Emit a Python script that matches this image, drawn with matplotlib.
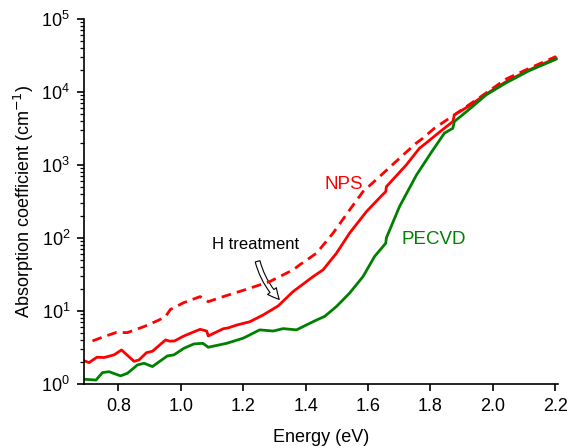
import numpy as np
import matplotlib
matplotlib.use('Agg')
import matplotlib.pyplot as plt
from matplotlib.patches import FancyArrowPatch

plt.rcParams['font.family'] = ['Liberation Sans', 'DejaVu Sans']

# NPS after H treatment (solid red)
nps_h_x = [0.69, 0.706, 0.731, 0.754, 0.786, 0.81, 0.85, 0.866, 0.89, 0.909, 0.951, 0.965,
           0.98, 1.01, 1.062, 1.083, 1.088, 1.136, 1.152, 1.179, 1.221, 1.264, 1.312, 1.36,
           1.424, 1.456, 1.499, 1.541, 1.595, 1.643, 1.657, 1.659, 1.723, 1.765, 1.787,
           1.819, 1.872, 1.877, 1.925, 1.979, 2.043, 2.117, 2.203]
nps_h_y = [2.08, 1.96, 2.32, 2.3, 2.5, 2.92, 2.04, 2.13, 2.68, 2.8, 4.0, 3.85,
           3.88, 4.54, 5.6, 5.3, 4.54, 5.7, 5.85, 6.4, 7.1, 8.8, 11.7, 18.4,
           29.5, 36.5, 61.7, 116, 229, 376, 430, 503, 1000, 1690, 2000,
           2590, 3920, 4840, 6440, 9350, 13800, 20000, 28900]

# NPS before treatment (dashed red)
nps_x = [0.717, 0.754, 0.792, 0.829, 0.882, 0.93, 0.951, 0.967, 1.01, 1.062, 1.088,
         1.136, 1.211, 1.285, 1.36, 1.381, 1.435, 1.488, 1.541, 1.584, 1.637, 1.701,
         1.755, 1.776, 1.813, 1.845, 1.877, 1.947, 2.043, 2.117, 2.203]
nps_y = [3.88, 4.45, 5.05, 5.05, 6.1, 7.5, 8.4, 10.5, 13, 15.7, 13.4,
         15.7, 19.8, 25.2, 36.5, 42.7, 61.7, 116, 241, 430, 690, 1230,
         1990, 2320, 3170, 3920, 4840, 7770, 15000, 21000, 30500]

# PECVD (solid green)
pecvd_x = [0.69, 0.728, 0.749, 0.77, 0.807, 0.829, 0.861, 0.882, 0.909, 0.957, 0.978,
           1.01, 1.042, 1.071, 1.088, 1.147, 1.2, 1.253, 1.296, 1.328, 1.371, 1.392,
           1.435, 1.461, 1.499, 1.541, 1.584, 1.621, 1.657, 1.659, 1.701, 1.755,
           1.801, 1.845, 1.872, 1.877, 1.925, 1.979, 2.043, 2.117, 2.203]
pecvd_y = [1.16, 1.13, 1.43, 1.47, 1.29, 1.40, 1.82, 1.92, 1.73, 2.42, 2.5,
           3.08, 3.53, 3.6, 3.18, 3.6, 4.23, 5.5, 5.3, 5.72, 5.5, 6.1,
           7.5, 8.4, 11.5, 17.5, 29.5, 55.5, 84.6, 100, 268, 720,
           1440, 2720, 3170, 3920, 5780, 9100, 13300, 19500, 28000]

red = '#ff0000'
green = '#008000'

fig = plt.figure(figsize=(5.72, 4.48), dpi=100)
ax = fig.add_axes([0.147, 0.143, 0.829, 0.815])

ax.plot(nps_x, nps_y, color=red, lw=2, ls=(0, (3.5, 2.2)))
ax.plot(nps_h_x, nps_h_y, color=red, lw=2)
ax.plot(pecvd_x, pecvd_y, color=green, lw=2)

ax.set_yscale('log')
ax.set_xlim(0.69, 2.21)
ax.set_ylim(1, 1e5)
ax.set_xticks([0.8, 1.0, 1.2, 1.4, 1.6, 1.8, 2.0, 2.2])
ax.set_xticklabels(['0.8', '1.0', '1.2', '1.4', '1.6', '1.8', '2.0', '2.2'])
ax.set_yticks([1, 10, 100, 1e3, 1e4, 1e5])

for s in ['top', 'right']:
    ax.spines[s].set_visible(False)
for s in ['left', 'bottom']:
    ax.spines[s].set_linewidth(1.2)
ax.tick_params(which='major', direction='out', length=5, width=1.2, labelsize=13, pad=5)
ax.tick_params(which='minor', direction='out', length=3, width=0.9)
ax.tick_params(axis='x', which='minor', length=0)

ax.set_xlabel('Energy (eV)', fontsize=13, labelpad=10)
ax.set_ylabel('Absorption coefficient (cm$^{-1}$)', fontsize=13, labelpad=4)

ax.text(1.462, 530, 'NPS', color=red, fontsize=13.5, ha='left', va='center')
ax.text(1.708, 94, 'PECVD', color=green, fontsize=13.5, ha='left', va='center')
ax.text(1.241, 80, 'H treatment', color='black', fontsize=12, ha='center', va='center')

arrow = FancyArrowPatch((1.244, 52), (1.322, 13.5),
                        connectionstyle='arc3,rad=0.15',
                        arrowstyle='simple,head_width=8,head_length=8,tail_width=3.5',
                        facecolor='white', edgecolor='black', lw=0.8)
ax.add_patch(arrow)

fig.savefig('out.png', dpi=100)
